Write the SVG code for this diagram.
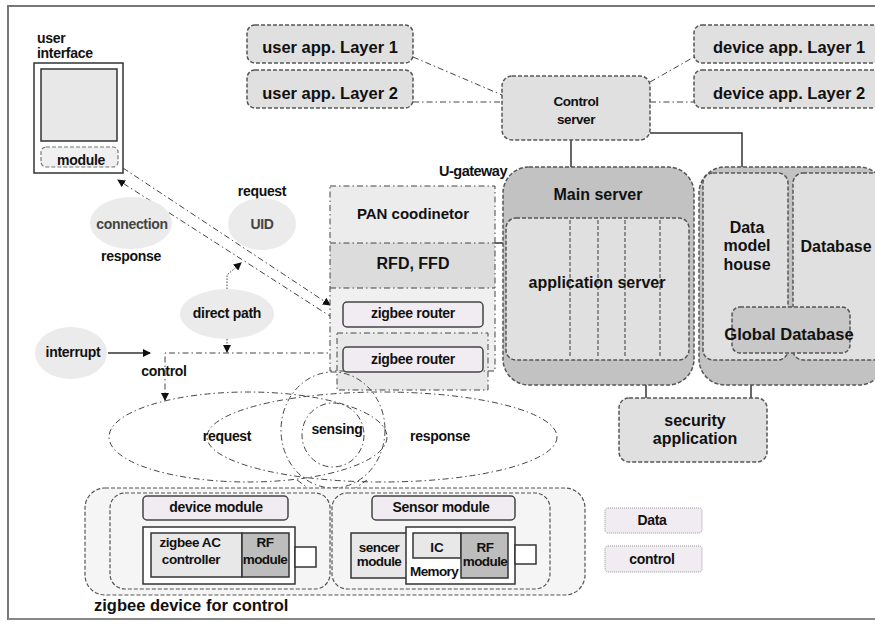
<svg xmlns="http://www.w3.org/2000/svg" width="875" height="622" viewBox="0 0 875 622">
<style>
.t{font-family:"Liberation Sans",Arial,sans-serif;font-weight:bold;fill:#111;text-anchor:middle}
.s14{font-size:14px;letter-spacing:-0.3px}
.s16{font-size:16px}
.dbox{fill:#e0e0e0;stroke:#555;stroke-width:1.5;stroke-dasharray:4 2}
.dk{fill:#c2c2c2;stroke:#555;stroke-width:1.5;stroke-dasharray:4 2}
.dd{fill:none;stroke:#444;stroke-width:1;stroke-dasharray:6 3 1.5 3}
.dot{fill:none;stroke:#444;stroke-width:1;stroke-dasharray:1.5 1.5}
.ell{fill:#ebebeb}
.sol{fill:none;stroke:#333;stroke-width:1.5}
.pink{fill:#f1ecf1;stroke:#444;stroke-width:1.5}
.leg{fill:#f1ecf1;stroke:#999;stroke-width:1;stroke-dasharray:1 1}
.grp{fill:#f5f5f5;stroke:#555;stroke-width:1.2;stroke-dasharray:4 2}
.blk{stroke:#333;stroke-width:1.5}
</style>
<defs>
<marker id="arr" markerWidth="8" markerHeight="8" refX="7" refY="4" orient="auto" markerUnits="userSpaceOnUse">
<path d="M0,0 L8,4 L0,8 z" fill="#111"/>
</marker>
</defs>
<rect width="875" height="622" fill="#fff"/>
<path d="M8,620 V6 H875" fill="none" stroke="#777" stroke-width="2"/>
<path d="M8,619 H875" fill="none" stroke="#888" stroke-width="2"/>

<g id="connectors">
<line class="dd" x1="413" y1="57" x2="502" y2="95"/>
<line class="dd" x1="413" y1="102" x2="502" y2="102"/>
<line class="dd" x1="650" y1="82" x2="694" y2="57"/>
<line class="dd" x1="650" y1="102" x2="694" y2="102"/>
<path class="sol" d="M571,140 V167"/>
<path class="sol" d="M650,133 H742 V173"/>
<path class="sol" d="M495,243 H504"/>
<path class="sol" d="M646,385 V398"/>
<path class="sol" d="M751,385 V398"/>
<line class="dd" x1="123" y1="168" x2="330" y2="305" marker-end="url(#arr)"/>
<line class="dd" x1="333" y1="318" x2="118" y2="180" marker-end="url(#arr)"/>
<line class="sol" x1="108" y1="353" x2="150" y2="353" stroke-width="1.2" marker-end="url(#arr)"/>
<path class="dd" d="M337,353 H165 V400" marker-end="url(#arr)"/>
<path class="dot" d="M227,289 V275 L241,263" marker-end="url(#arr)"/>
<path class="dot" d="M227,339 V352" marker-end="url(#arr)"/>
<path class="dd" d="M297,480 L331,505 L367,480"/>
<path d="M327,500 L335,500 L331,507 z" fill="#111"/>
</g>

<g id="user-interface">
<text class="t s14" x="37" y="43" text-anchor="start" style="text-anchor:start">user</text>
<text class="t s14" x="37" y="58" style="text-anchor:start">interface</text>
<rect x="34" y="63" width="89" height="110" fill="#fff" stroke="#333" stroke-width="1.5"/>
<rect x="41" y="69" width="76" height="72" fill="#e8e8e8" stroke="#333" stroke-width="1.5"/>
<rect x="41" y="147" width="77" height="20" rx="5" fill="#f0f0f0" stroke="#777" stroke-width="1.2" stroke-dasharray="4 2"/>
<text class="t s14" x="81" y="165">module</text>
</g>

<g id="user-app-1"><rect class="dbox" x="247" y="25" width="166" height="38" rx="8"/><text class="t" style="font-size:16.5px" x="330" y="53">user app. Layer 1</text></g>
<g id="user-app-2"><rect class="dbox" x="247" y="70" width="166" height="38" rx="8"/><text class="t" style="font-size:16.5px" x="330" y="99">user app. Layer 2</text></g>
<g id="device-app-1"><rect class="dbox" x="694" y="25" width="192" height="38" rx="8"/><text class="t" style="font-size:16.5px" x="789" y="53">device app. Layer 1</text></g>
<g id="device-app-2"><rect class="dbox" x="694" y="70" width="192" height="38" rx="8"/><text class="t" style="font-size:16.5px" x="789" y="99">device app. Layer 2</text></g>

<g id="control-server">
<rect class="dbox" x="502" y="76" width="148" height="64" rx="10"/>
<text class="t" style="font-size:13.5px;letter-spacing:-0.4px" x="576" y="106">Control</text>
<text class="t" style="font-size:13.5px;letter-spacing:-0.4px" x="576" y="124">server</text>
</g>

<g id="main-server">
<rect class="dk" x="503" y="167" width="191" height="218" rx="26"/>
<text class="t s16" x="598" y="200">Main server</text>
<rect class="dbox" x="506" y="218" width="183" height="142" rx="10"/>
<path d="M570,220 V358 M598,220 V358 M625,220 V358 M660,220 V358" fill="none" stroke="#555" stroke-width="1.2" stroke-dasharray="4 2"/>
<text class="t s16" x="597" y="288">application server</text>
</g>

<g id="data-server">
<rect class="dk" x="699" y="167" width="186" height="218" rx="26"/>
<rect class="dbox" x="703" y="173" width="85" height="187" rx="10"/>
<rect class="dbox" x="793" y="173" width="90" height="187" rx="10"/>
<text class="t s16" x="747" y="233">Data</text>
<text class="t s16" x="747" y="251">model</text>
<text class="t s16" x="747" y="270">house</text>
<text class="t s16" x="836" y="252">Database</text>
<rect class="dbox" x="732" y="307" width="118" height="46" rx="8" style="fill:#c8c8c8"/>
<text class="t" style="font-size:16.5px" x="789" y="340">Global Database</text>
</g>

<g id="security-application">
<rect class="dbox" x="619" y="398" width="148" height="64" rx="10"/>
<text class="t s16" x="695" y="426">security</text>
<text class="t s16" x="695" y="444">application</text>
</g>

<g id="legend">
<rect class="leg" x="605" y="508" width="97" height="25" rx="3"/>
<text class="t s14" x="652" y="525">Data</text>
<rect class="leg" x="605" y="546" width="97" height="26" rx="3"/>
<text class="t s14" x="652" y="564">control</text>
</g>

<g id="u-gateway">
<text class="t" style="font-size:14.5px;letter-spacing:-0.5px;text-anchor:end" x="507" y="176">U-gateway</text>
<rect x="330" y="186" width="165" height="185" fill="#f0f0f0"/>
<rect x="330" y="186" width="165" height="57" fill="#ececec"/>
<rect x="330" y="243" width="165" height="45" fill="#dcdcdc"/>
<rect x="337" y="333" width="151" height="57" fill="#e8e8e8"/>
<rect x="337" y="333" width="151" height="57" class="dd" stroke="#555"/>
<rect x="330" y="186" width="165" height="185" class="dd"/>
<line class="dd" x1="330" y1="243" x2="495" y2="243"/>
<line class="dd" x1="330" y1="288" x2="495" y2="288"/>
<text class="t" style="font-size:15px" x="413" y="219">PAN coodinetor</text>
<text class="t s16" x="413" y="269">RFD, FFD</text>
<g id="zigbee-router-1"><rect class="pink" x="343" y="302" width="140" height="25" rx="4"/><text class="t s14" x="413" y="318">zigbee router</text></g>
<g id="zigbee-router-2"><rect class="pink" x="343" y="347" width="140" height="25" rx="4"/><text class="t s14" x="413" y="364">zigbee router</text></g>
</g>

<g id="connection"><ellipse class="ell" cx="131" cy="223" rx="41" ry="26"/><text class="t s14" x="132" y="229" style="fill:#444">connection</text><text class="t s14" x="131" y="261">response</text></g>
<g id="uid"><text class="t s14" x="262" y="196">request</text><ellipse class="ell" cx="262" cy="224" rx="34" ry="26"/><text class="t s14" x="262" y="229" style="fill:#444">UID</text></g>
<g id="direct-path"><ellipse class="ell" cx="227" cy="314" rx="47" ry="25"/><text class="t s14" x="227" y="318">direct path</text></g>
<g id="interrupt"><ellipse class="ell" cx="71" cy="353" rx="36" ry="26"/><text class="t s14" x="73" y="357">interrupt</text></g>
<text class="t s14" x="164" y="376">control</text>

<g id="sensing-area">
<ellipse class="dd" cx="248" cy="437" rx="139" ry="45"/>
<ellipse class="dd" cx="382" cy="437" rx="175" ry="45"/>
<ellipse class="dd" cx="333" cy="430" rx="52" ry="58"/>
<ellipse class="dd" cx="333" cy="435" rx="31" ry="32"/>
<text class="t s14" x="227" y="441">request</text>
<text class="t s14" x="337" y="434">sensing</text>
<text class="t s14" x="440" y="441">response</text>
</g>

<g id="zigbee-device">
<rect class="grp" x="85" y="488" width="500" height="107" rx="20"/>
<rect class="grp" x="110" y="493" width="220" height="96" rx="15"/>
<rect class="grp" x="332" y="493" width="218" height="96" rx="15"/>
<g id="device-module">
<rect class="pink" x="143" y="496" width="145" height="24" rx="4"/>
<text class="t s14" x="216" y="512">device module</text>
<rect x="143" y="527" width="152" height="57" fill="#fff" class="blk"/>
<rect x="151" y="533" width="91" height="44" fill="#e8e8e8" class="blk"/>
<rect x="242" y="533" width="47" height="44" fill="#bdbdbd" class="blk"/>
<rect x="295" y="547" width="21" height="20" fill="#fff" class="blk"/>
<text class="t" style="font-size:13.5px;letter-spacing:-0.4px" x="190" y="547">zigbee AC</text>
<text class="t" style="font-size:13.5px;letter-spacing:-0.4px" x="191" y="564">controller</text>
<text class="t" style="font-size:13.5px;letter-spacing:-0.4px" x="265" y="547">RF</text>
<text class="t" style="font-size:13.5px;letter-spacing:-0.6px" x="265" y="564">module</text>
</g>
<g id="sensor-module">
<rect class="pink" x="372" y="496" width="143" height="24" rx="4"/>
<text class="t s14" x="441" y="512">Sensor module</text>
<rect x="351" y="533" width="56" height="45" fill="#e8e8e8" class="blk"/>
<rect x="406" y="527" width="109" height="57" fill="#fff" class="blk"/>
<rect x="413" y="533" width="48" height="25" fill="#e8e8e8" class="blk"/>
<rect x="461" y="533" width="47" height="45" fill="#bdbdbd" class="blk"/>
<rect x="515" y="545" width="21" height="19" fill="#fff" class="blk"/>
<text class="t" style="font-size:13.5px;letter-spacing:-0.5px" x="379" y="552">sencer</text>
<text class="t" style="font-size:13.5px;letter-spacing:-0.6px" x="379" y="566">module</text>
<text class="t" style="font-size:13.5px" x="437" y="552">IC</text>
<text class="t" style="font-size:13.5px;letter-spacing:-0.4px" x="485" y="552">RF</text>
<text class="t" style="font-size:13.5px;letter-spacing:-0.6px" x="485" y="566">module</text>
<text class="t" style="font-size:13.5px;letter-spacing:-0.6px;text-anchor:start" x="410" y="576">Memory</text>
</g>
<text class="t" style="font-size:16.5px;text-anchor:start" x="94" y="611">zigbee device for control</text>
</g>
</svg>
